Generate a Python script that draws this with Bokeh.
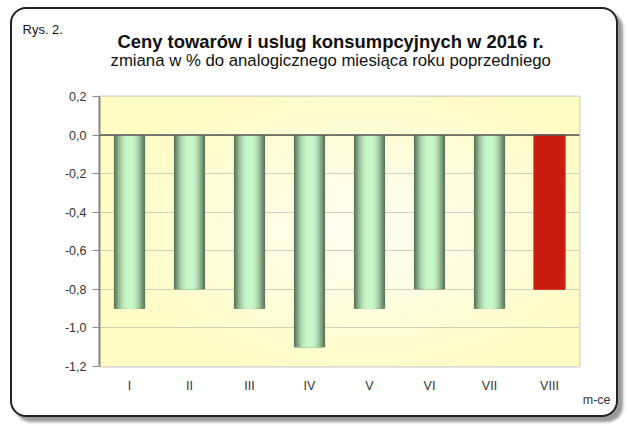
import numpy as np
from bokeh.plotting import figure
from bokeh.models import ColumnDataSource, FactorRange, Range1d, Title, Span, FixedTicker
from bokeh.embed import file_html
from bokeh.resources import INLINE

months = ["I", "II", "III", "IV", "V", "VI", "VII", "VIII"]
values = [-0.9, -0.8, -0.9, -1.1, -0.9, -0.8, -0.9, -0.8]
y_ticks = [0.2, 0.0, -0.2, -0.4, -0.6, -0.8, -1.0, -1.2]
y_tick_labels = ["0,2", "0,0", "-0,2", "-0,4", "-0,6", "-0,8", "-1,0", "-1,2"]
title_text = "Ceny towarów i uslug konsumpcyjnych w 2016 r."
subtitle_text = "zmiana w % do analogicznego miesiąca roku poprzedniego"
fig_label = "Rys. 2."
x_unit = "m-ce"

FONT = "Liberation Sans"
W, H = 608, 410

p = figure(width=W, height=H, x_range=FactorRange(*months), y_range=Range1d(-1.2, 0.2),
           output_backend="svg", toolbar_location=None,
           min_border_left=87, min_border_right=41, min_border_top=87, min_border_bottom=53)
p.styles = {"border": "2px solid #222", "border-radius": "16px", "margin-left": "10px",
            "margin-top": "7px",
            "box-shadow": "5px 5px 3px #9a9a9a", "background": "white", "overflow": "hidden"}
p.border_fill_alpha = 0
p.outline_line_color = "#d0d0d0"
p.outline_line_width = 2

# radial background gradient for the plot area
ny, nx = 120, 240
yy, xx = np.mgrid[0:ny, 0:nx]
r = np.sqrt(((xx - nx * 0.55) / (nx * 0.55)) ** 2 + ((yy - ny * 0.5) / (ny * 0.6)) ** 2)
t = np.clip(r, 0, 1)
c0 = np.array([255, 255, 245]); c1 = np.array([255, 252, 196])
img = np.zeros((ny, nx), dtype=np.uint32)
view = img.view(dtype=np.uint8).reshape((ny, nx, 4))
for k in range(3):
    view[:, :, k] = (c0[k] + (c1[k] - c0[k]) * t).astype(np.uint8)
view[:, :, 3] = 255
p.image_rgba(image=[img], x=0, y=p.y_range.start, dw=len(months),
             dh=p.y_range.end - p.y_range.start, level="image")

src = ColumnDataSource(data=dict(m=months, v=values))
# cylinder-like green gradient: layered bars
layers = [(0.52, "#5a785a"), (0.47, "#6e8e6e"), (0.42, "#84a684"), (0.36, "#9cc29c"),
          (0.29, "#b2dcb2"), (0.21, "#c0eec0"), (0.12, "#c8f8c8")]
for w, c in layers:
    p.vbar(x="m", top="v", bottom=0, width=w, source=src, fill_color=c, line_color=None)

last = ColumnDataSource(data=dict(m=months[-1:], v=values[-1:]))
p.vbar(x="m", top="v", bottom=0, width=0.52, source=last, fill_color="#c81c10", line_color="#d83020", line_width=1)

p.add_layout(Span(location=0, dimension="width", line_color="#555555", line_width=1.5))

p.xgrid.grid_line_color = None
p.ygrid.grid_line_color = "#a0a0a0"
p.ygrid.grid_line_dash = "1 1"
p.ygrid.level = "underlay"

p.yaxis.ticker = FixedTicker(ticks=y_ticks)
p.yaxis.major_label_overrides = {tk: lb for tk, lb in zip(y_ticks, y_tick_labels)}
p.yaxis.axis_line_color = "#888888"
p.yaxis.axis_line_width = 2
p.yaxis.major_tick_line_color = "#888888"
p.yaxis.major_tick_out = 7
p.yaxis.major_tick_in = 0
p.yaxis.minor_tick_line_color = None
p.yaxis.major_label_standoff = 6
p.yaxis.major_label_text_font = FONT
p.yaxis.major_label_text_font_size = "12.5px"
p.yaxis.major_label_text_color = "#333333"

p.xaxis.axis_line_color = None
p.xaxis.major_tick_line_color = None
p.xaxis.major_tick_out = 0
p.xaxis.major_tick_in = 0
p.xaxis.minor_tick_line_color = None
p.xaxis.major_label_standoff = 12
p.xaxis.major_label_text_font = FONT
p.xaxis.major_label_text_font_size = "12.5px"
p.xaxis.major_label_text_color = "#333333"

# unit label below the plot area, at the right end
p.add_layout(Title(text=x_unit, align="right", offset=-31, standoff=-23,
                   text_font=FONT, text_font_size="12.5px", text_font_style="normal",
                   text_color="#333333"), "below")

# titles stacked above the plot area (first added is nearest the plot area)
p.add_layout(Title(text=" ", text_font_size="1px", standoff=24), "above")
p.add_layout(Title(text=subtitle_text, align="left", offset=11, standoff=0,
                   text_font=FONT, text_font_size="16.75px", text_font_style="normal",
                   text_color="#111111"), "above")
p.add_layout(Title(text=title_text, align="left", offset=18, standoff=-6,
                   text_font=FONT, text_font_size="18.4px", text_font_style="bold",
                   text_color="#111111"), "above")
p.add_layout(Title(text=fig_label, align="left", offset=-77, standoff=-11,
                   text_font=FONT, text_font_size="13px", text_font_style="normal",
                   text_color="#111111"), "above")

open("out.html", "w").write(file_html(p, INLINE))
